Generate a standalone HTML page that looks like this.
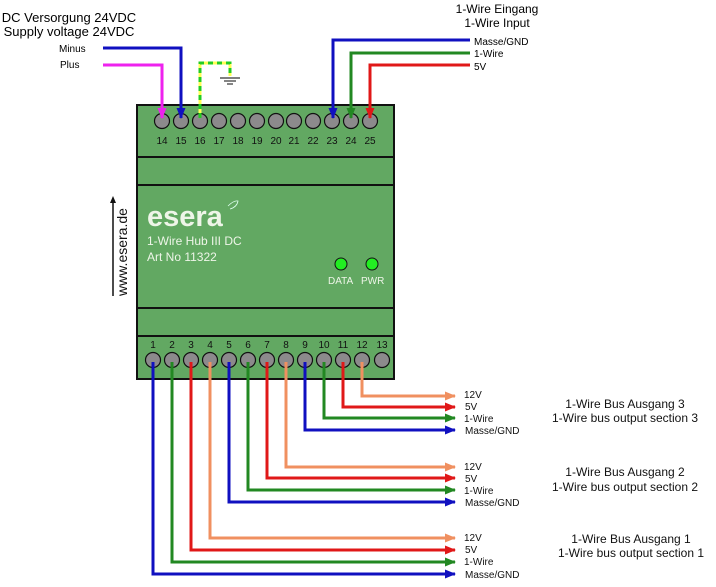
<!DOCTYPE html>
<html><head><meta charset="utf-8"><style>
html,body{margin:0;padding:0;background:#fff;}
svg{display:block;font-family:"Liberation Sans",Arial,sans-serif;}
</style></head><body>
<svg width="716" height="587" viewBox="0 0 716 587" xmlns="http://www.w3.org/2000/svg">
<defs>
<marker id="a" markerWidth="11" markerHeight="9" refX="10" refY="4.5" orient="auto" markerUnits="userSpaceOnUse"><path d="M0,0 L11,4.5 L0,9 z" fill="context-stroke"/></marker>
</defs>
<text x="69" y="22" font-size="13" text-anchor="middle">DC Versorgung 24VDC</text>
<text x="69" y="36" font-size="13" text-anchor="middle">Supply voltage 24VDC</text>
<text x="59" y="52" font-size="10">Minus</text>
<text x="60" y="68" font-size="10">Plus</text>
<text x="497" y="13" font-size="12" text-anchor="middle">1-Wire Eingang</text>
<text x="497" y="27" font-size="12" text-anchor="middle">1-Wire Input</text>
<text x="474" y="45" font-size="10">Masse/GND</text>
<text x="474" y="57" font-size="10">1-Wire</text>
<text x="474" y="70" font-size="10">5V</text>

<rect x="137" y="105" width="257" height="274" fill="#62a862" stroke="#111" stroke-width="2"/>
<line x1="137" y1="157" x2="394" y2="157" stroke="#111" stroke-width="2"/>
<line x1="137" y1="185" x2="394" y2="185" stroke="#111" stroke-width="2"/>
<line x1="137" y1="308" x2="394" y2="308" stroke="#111" stroke-width="2"/>
<line x1="137" y1="336" x2="394" y2="336" stroke="#111" stroke-width="2"/>

<g stroke="#111" stroke-width="1.2" fill="#8c8a8c">
<circle cx="162" cy="121" r="7.5"/><circle cx="181" cy="121" r="7.5"/><circle cx="200" cy="121" r="7.5"/><circle cx="219" cy="121" r="7.5"/><circle cx="238" cy="121" r="7.5"/><circle cx="257" cy="121" r="7.5"/><circle cx="276" cy="121" r="7.5"/><circle cx="294" cy="121" r="7.5"/><circle cx="313" cy="121" r="7.5"/><circle cx="332" cy="121" r="7.5"/><circle cx="351" cy="121" r="7.5"/><circle cx="370" cy="121" r="7.5"/>
</g>
<g font-size="10" text-anchor="middle" fill="#111">
<text x="162" y="144">14</text><text x="181" y="144">15</text><text x="200" y="144">16</text><text x="219" y="144">17</text><text x="238" y="144">18</text><text x="257" y="144">19</text><text x="276" y="144">20</text><text x="294" y="144">21</text><text x="313" y="144">22</text><text x="332" y="144">23</text><text x="351" y="144">24</text><text x="370" y="144">25</text>
</g>
<g stroke="#111" stroke-width="1.2" fill="#8c8a8c">
<circle cx="153" cy="360" r="7.5"/><circle cx="172" cy="360" r="7.5"/><circle cx="191" cy="360" r="7.5"/><circle cx="210" cy="360" r="7.5"/><circle cx="229" cy="360" r="7.5"/><circle cx="248" cy="360" r="7.5"/><circle cx="267" cy="360" r="7.5"/><circle cx="286" cy="360" r="7.5"/><circle cx="305" cy="360" r="7.5"/><circle cx="324" cy="360" r="7.5"/><circle cx="343" cy="360" r="7.5"/><circle cx="362" cy="360" r="7.5"/><circle cx="382" cy="360" r="7.5"/>
</g>
<g font-size="10" text-anchor="middle" fill="#111">
<text x="153" y="348">1</text><text x="172" y="348">2</text><text x="191" y="348">3</text><text x="210" y="348">4</text><text x="229" y="348">5</text><text x="248" y="348">6</text><text x="267" y="348">7</text><text x="286" y="348">8</text><text x="305" y="348">9</text><text x="324" y="348">10</text><text x="343" y="348">11</text><text x="362" y="348">12</text><text x="382" y="348">13</text>
</g>

<text x="147" y="226" font-size="29" font-weight="bold" fill="#eef5e8">esera</text>
<path d="M228,206 q6,-6 10,-5 q-1,6 -8,8" fill="none" stroke="#dfe" stroke-width="0.8"/>
<text x="147" y="245" font-size="12" fill="#eef5e8">1-Wire Hub III DC</text>
<text x="147" y="261" font-size="12" fill="#eef5e8">Art No 11322</text>
<circle cx="341" cy="264" r="6" fill="#22ee22" stroke="#111"/>
<circle cx="372" cy="264" r="6" fill="#22ee22" stroke="#111"/>
<text x="328" y="284" font-size="10" fill="#eef5e8">DATA</text>
<text x="361" y="284" font-size="10" fill="#eef5e8">PWR</text>
<text transform="translate(127,296) rotate(-90)" font-size="14" fill="#111">www.esera.de</text>
<line x1="113" y1="296" x2="113" y2="200" stroke="#111" stroke-width="1.5"/>
<path d="M110,203 L113,196 L116,203 z" fill="#111"/>

<g fill="none" stroke-width="3">
<polyline points="103,48 181,48 181,118" stroke="#1010c0" marker-end="url(#a)"/>
<polyline points="103,65 162,65 162,118" stroke="#ee22ee" marker-end="url(#a)"/>
<polyline points="200,118 200,63 230,63 230,76" stroke="#ffff55"/>
<polyline points="200,118 200,63 230,63 230,76" stroke="#22cc22" stroke-dasharray="5,4"/>
<polyline points="470,40 333,40 333,118" stroke="#1010c0" marker-end="url(#a)"/>
<polyline points="470,53 351,53 351,118" stroke="#228822" marker-end="url(#a)"/>
<polyline points="470,65 370,65 370,118" stroke="#e01818" marker-end="url(#a)"/>
</g>
<g stroke="#333" stroke-width="1.2">
<line x1="220" y1="78" x2="240" y2="78"/><line x1="224" y1="81" x2="236" y2="81"/><line x1="227" y1="84" x2="233" y2="84"/>
</g>

<g fill="none" stroke-width="3">
<polyline points="362,362 362,396 455,396" stroke="#f09060" marker-end="url(#a)"/>
<polyline points="343,362 343,407 455,407" stroke="#e01818" marker-end="url(#a)"/>
<polyline points="324,362 324,418 455,418" stroke="#228822" marker-end="url(#a)"/>
<polyline points="305,362 305,430 455,430" stroke="#1010c0" marker-end="url(#a)"/>
<polyline points="286,362 286,467 455,467" stroke="#f09060" marker-end="url(#a)"/>
<polyline points="267,362 267,478 455,478" stroke="#e01818" marker-end="url(#a)"/>
<polyline points="248,362 248,490 455,490" stroke="#228822" marker-end="url(#a)"/>
<polyline points="229,362 229,502 455,502" stroke="#1010c0" marker-end="url(#a)"/>
<polyline points="210,362 210,538 455,538" stroke="#f09060" marker-end="url(#a)"/>
<polyline points="191,362 191,550 455,550" stroke="#e01818" marker-end="url(#a)"/>
<polyline points="172,362 172,562 455,562" stroke="#228822" marker-end="url(#a)"/>
<polyline points="153,362 153,574 455,574" stroke="#1010c0" marker-end="url(#a)"/>
</g>

<g font-size="10" fill="#111">
<text x="464" y="398">12V</text><text x="465" y="410">5V</text><text x="464" y="422">1-Wire</text><text x="465" y="434">Masse/GND</text>
<text x="464" y="470">12V</text><text x="465" y="482">5V</text><text x="464" y="494">1-Wire</text><text x="465" y="506">Masse/GND</text>
<text x="464" y="541">12V</text><text x="465" y="553">5V</text><text x="464" y="565">1-Wire</text><text x="465" y="578">Masse/GND</text>
</g>
<g font-size="12" fill="#111" text-anchor="middle">
<text x="625" y="408">1-Wire Bus Ausgang 3</text><text x="625" y="422">1-Wire bus output section 3</text>
<text x="625" y="476">1-Wire Bus Ausgang 2</text><text x="625" y="491">1-Wire bus output section 2</text>
<text x="631" y="543">1-Wire Bus Ausgang 1</text><text x="631" y="557">1-Wire bus output section 1</text>
</g>
</svg>
</body></html>
